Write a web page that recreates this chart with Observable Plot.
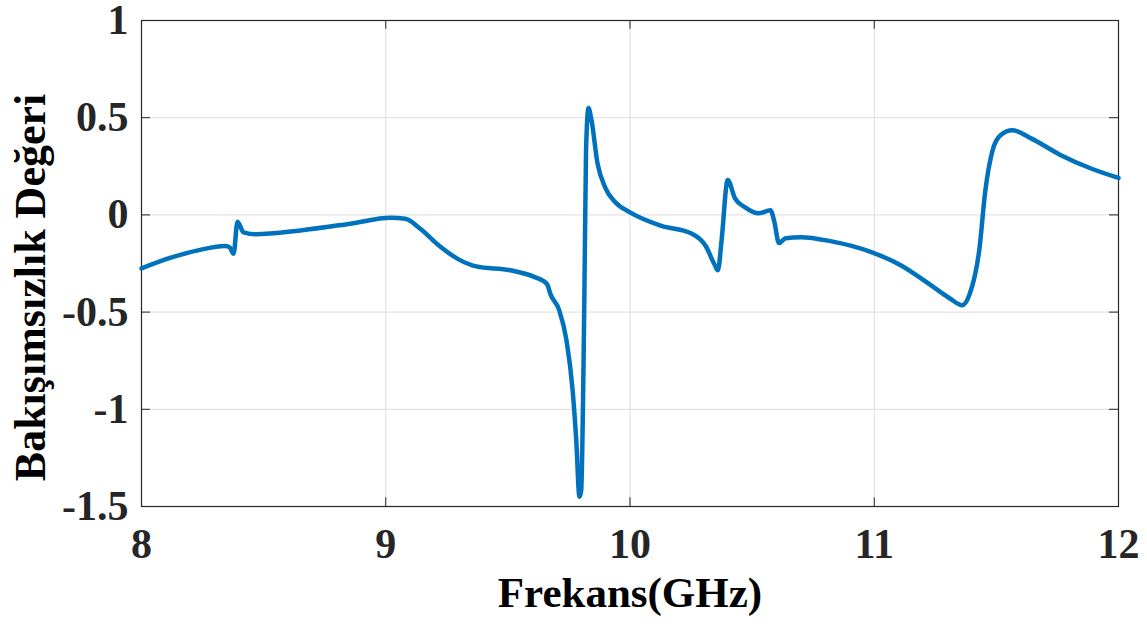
<!DOCTYPE html>
<html>
<head>
<meta charset="utf-8">
<script src="https://cdn.jsdelivr.net/npm/d3@7"></script>
<script src="https://cdn.jsdelivr.net/npm/@observablehq/plot@0.6"></script>
<style>
  body { margin: 0; background: #fff; }
</style>
</head>
<body>
<div id="chart"></div>
<script>
const freq = [8.0, 8.12, 8.24, 8.34, 8.36, 8.377, 8.393, 8.418, 8.467, 8.65, 8.856, 9.02, 9.08, 9.14, 9.22, 9.30, 9.37, 9.51, 9.61, 9.66, 9.675, 9.71, 9.74, 9.765, 9.78, 9.793, 9.80, 9.813, 9.82, 9.83, 9.842, 9.867, 9.90, 9.94, 10.0, 10.125, 10.25, 10.31, 10.346, 10.36, 10.375, 10.40, 10.43, 10.47, 10.526, 10.575, 10.59, 10.61, 10.637, 10.70, 10.82, 10.985, 11.11, 11.23, 11.31, 11.36, 11.39, 11.43, 11.455, 11.484, 11.517, 11.566, 11.64, 11.76, 11.885, 12.0];
const value = [-0.275, -0.22, -0.18, -0.16, -0.165, -0.2, -0.035, -0.09, -0.10, -0.08, -0.045, -0.015, -0.02, -0.07, -0.16, -0.23, -0.265, -0.285, -0.32, -0.355, -0.41, -0.49, -0.645, -0.9, -1.16, -1.45, -1.42, -0.44, 0.33, 0.55, 0.49, 0.265, 0.137, 0.065, 0.013, -0.055, -0.095, -0.16, -0.255, -0.285, -0.13, 0.18, 0.085, 0.04, 0.008, 0.024, -0.03, -0.145, -0.12, -0.115, -0.135, -0.19, -0.26, -0.36, -0.43, -0.465, -0.41, -0.18, 0.127, 0.33, 0.41, 0.435, 0.395, 0.31, 0.24, 0.19];
const xTicks = [8, 9, 10, 11, 12];
const yTicks = [1, 0.5, 0, -0.5, -1, -1.5];
const xLabel = "Frekans(GHz)";
const yLabel = "Bakışımsızlık Değeri";

const data = freq.map((f, i) => ({f, v: value[i]}));
const fmt = d => String(d);

const chart = Plot.plot({
  width: 1147,
  height: 630,
  marginLeft: 141,
  marginRight: 29,
  marginTop: 20,
  marginBottom: 124,
  style: {fontFamily: "'Liberation Serif', 'Times New Roman', serif", fontWeight: "bold", background: "#fff", color: "#262626", overflow: "visible"},
  x: {domain: [8, 12]},
  y: {domain: [-1.5, 1]},
  marks: [
    Plot.gridX(xTicks, {stroke: "#dcdcdc", strokeOpacity: 1, strokeWidth: 1}),
    Plot.gridY(yTicks, {stroke: "#dcdcdc", strokeOpacity: 1, strokeWidth: 1}),
    Plot.ruleX(xTicks, {y1: -1.5, y2: -1.455, stroke: "#262626"}),
    Plot.ruleX(xTicks, {y1: 1, y2: 0.955, stroke: "#262626"}),
    Plot.ruleY(yTicks, {x1: 8, x2: 8.037, stroke: "#262626"}),
    Plot.ruleY(yTicks, {x1: 12, x2: 11.963, stroke: "#262626"}),
    Plot.frame({stroke: "#262626", strokeWidth: 1.2}),
    Plot.line(data, {x: "f", y: "v", stroke: "#0072BD", strokeWidth: 4.5, curve: "monotone-x", strokeLinejoin: "round"}),
    Plot.axisX(xTicks, {tickSize: 0, tickPadding: 22, fontSize: 42, label: null, tickFormat: fmt, fill: "#262626", fontWeight: "bold"}),
    Plot.axisY(yTicks, {tickSize: 0, tickPadding: 13, fontSize: 42, label: null, tickFormat: fmt, fill: "#262626", fontWeight: "bold"}),
    Plot.text([xLabel], {frameAnchor: "bottom", dy: 100, fontSize: 43, fontWeight: "bold", fill: "#000"}),
    Plot.text([yLabel], {frameAnchor: "left", textAnchor: "middle", dx: -111, dy: 24, rotate: -90, fontSize: 44, fontWeight: "bold", fill: "#000"})
  ]
});
document.getElementById("chart").appendChild(chart);
</script>
</body>
</html>
